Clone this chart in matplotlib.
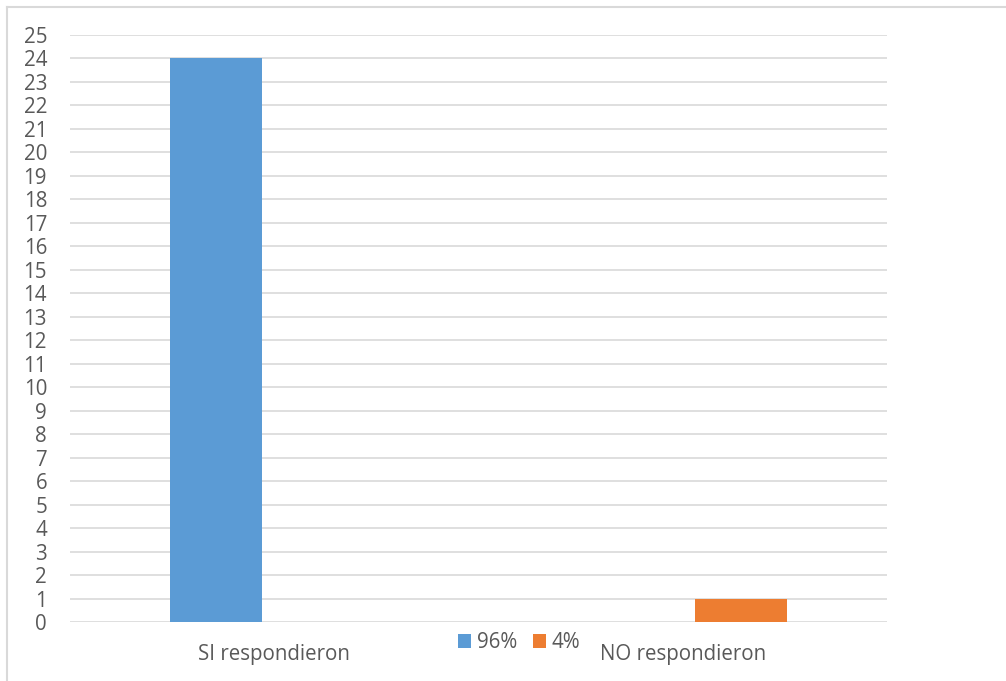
import matplotlib
matplotlib.use('Agg')
import matplotlib.pyplot as plt
from matplotlib.lines import Line2D
import numpy as np

# data
categories = ['SI respondieron', 'NO respondieron']
series_names = ['96%', '4%']
si_values = [24, 0]
no_values = [0, 1]
y_ticks = list(range(0, 26))

blue = '#5b9bd5'
orange = '#ed7d31'
text_gray = '#595959'
grid_gray = '#d9d9d9'

plt.rcParams['font.family'] = ['Open Sans', 'DejaVu Sans']
fs = 14.8

W, H = 1006, 681
fig = plt.figure(figsize=(W / 100, H / 100), dpi=100)
ax = fig.add_axes([70 / W, (H - 622) / H, (887 - 70) / W, (622 - 35) / H])

x = np.arange(len(categories))
bw = 0.225
off = 0.142
ax.bar(x - off, si_values, width=bw, color=blue, label=series_names[0], zorder=3)
ax.bar(x + off, no_values, width=bw, color=orange, label=series_names[1], zorder=3)

ax.set_xlim(-0.5, 1.5)
ax.set_ylim(0, 25)
ax.set_yticks(y_ticks)
ax.set_yticklabels([str(v) for v in y_ticks], fontsize=fs, color=text_gray)
ax.set_xticks(x)
ax.set_xticklabels(categories, fontsize=fs, color=text_gray)
ax.tick_params(axis='y', length=0, pad=16.5)
ax.tick_params(axis='x', length=0, pad=15.5)

ax.grid(axis='y', color=grid_gray, linewidth=1.2, zorder=0)
for s in ax.spines.values():
    s.set_visible(False)

fig.legend(loc='center', bbox_to_anchor=(519 / W, 1 - 643 / H), ncol=2,
           frameon=False, fontsize=fs, labelcolor=text_gray,
           handlelength=0.64, handleheight=0.64, handletextpad=0.28,
           columnspacing=0.75, borderpad=0, borderaxespad=0)

# light frame around the chart (top and left edges visible)
fig.add_artist(Line2D([6.5 / W, 1], [1 - 6.5 / H, 1 - 6.5 / H],
                      transform=fig.transFigure, color=grid_gray, lw=1.5))
fig.add_artist(Line2D([6.5 / W, 6.5 / W], [0, 1 - 6.5 / H],
                      transform=fig.transFigure, color=grid_gray, lw=1.5))

fig.savefig('out.png', dpi=100, facecolor='white')
